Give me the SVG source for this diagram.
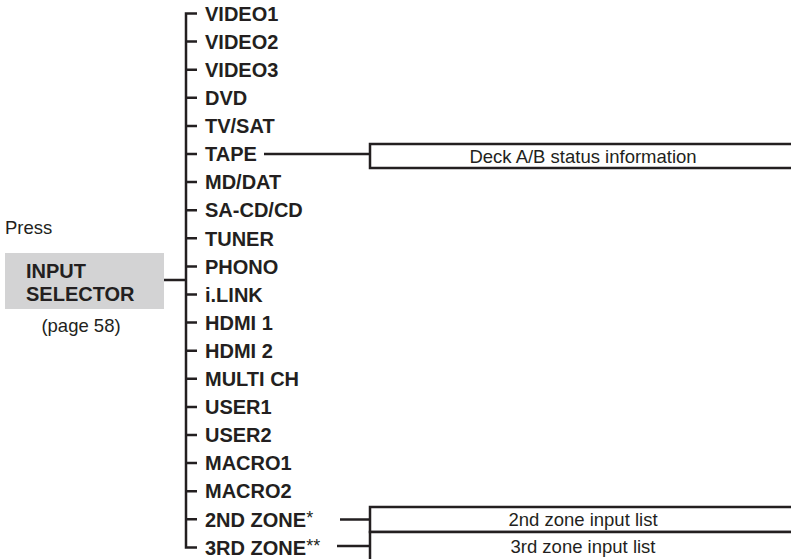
<svg xmlns="http://www.w3.org/2000/svg" width="791" height="559" viewBox="0 0 791 559">
<style>
.lbl{font-family:"Liberation Sans",Arial,sans-serif;font-weight:bold;font-size:20px;fill:#231f20}
.reg{font-family:"Liberation Sans",Arial,sans-serif;font-size:18.5px;fill:#231f20}
.ast{font-weight:normal;font-size:18px}
.ln{stroke:#231f20;stroke-width:2.5;fill:none}
.box{stroke:#231f20;stroke-width:2.5;fill:#fff}
</style>
<rect width="791" height="559" fill="#fff"/>
<g id="connectors">
<path class="ln" d="M164,280 H186 M197,13.5 H186 V547.4 H197"/>
<path class="ln" d="M186,41.6 H197 M186,69.7 H197 M186,97.8 H197 M186,125.9 H197 M186,154 H197 M186,182.1 H197 M186,210.2 H197 M186,238.3 H197 M186,266.4 H197 M186,294.5 H197 M186,322.6 H197 M186,350.7 H197 M186,378.8 H197 M186,406.9 H197 M186,435 H197 M186,463.1 H197 M186,491.2 H197 M186,519.3 H197"/>
<path class="ln" d="M264,154 H370 M340,519.5 H370 M337,546 H370"/>
</g>
<g id="press"><text class="reg" x="5" y="234">Press</text></g>
<g id="input-selector">
<rect x="5" y="253" width="159" height="56" fill="#d3d3d4"/>
<text class="lbl" x="26" y="278" font-size="21">INPUT</text>
<text class="lbl" x="26" y="301" font-size="21">SELECTOR</text>
</g>
<g id="page"><text class="reg" x="81" y="332" text-anchor="middle">(page 58)</text></g>
<g id="inputs">
<text class="lbl" x="205" y="20.7">VIDEO1</text>
<text class="lbl" x="205" y="48.8">VIDEO2</text>
<text class="lbl" x="205" y="76.9">VIDEO3</text>
<text class="lbl" x="205" y="105">DVD</text>
<text class="lbl" x="205" y="133.1">TV/SAT</text>
<text class="lbl" x="205" y="161.2">TAPE</text>
<text class="lbl" x="205" y="189.3">MD/DAT</text>
<text class="lbl" x="205" y="217.4">SA-CD/CD</text>
<text class="lbl" x="205" y="245.5">TUNER</text>
<text class="lbl" x="205" y="273.6">PHONO</text>
<text class="lbl" x="205" y="301.7">i.LINK</text>
<text class="lbl" x="205" y="329.8">HDMI 1</text>
<text class="lbl" x="205" y="357.9">HDMI 2</text>
<text class="lbl" x="205" y="386">MULTI CH</text>
<text class="lbl" x="205" y="414.1">USER1</text>
<text class="lbl" x="205" y="442.2">USER2</text>
<text class="lbl" x="205" y="470.3">MACRO1</text>
<text class="lbl" x="205" y="498.4">MACRO2</text>
<text class="lbl" x="205" y="526.5">2ND ZONE<tspan class="ast" dy="-3">*</tspan></text>
<text class="lbl" x="205" y="554.6">3RD ZONE<tspan class="ast" dy="-3">**</tspan></text>
</g>
<g id="deck-box">
<rect class="box" x="370" y="144" width="430" height="24"/>
<text class="reg" x="583" y="162.5" text-anchor="middle">Deck A/B status information</text>
</g>
<g id="zone2-box">
<rect class="box" x="370" y="507" width="430" height="25"/>
<text class="reg" x="583" y="526" text-anchor="middle">2nd zone input list</text>
</g>
<g id="zone3-box">
<rect class="box" x="370" y="532" width="430" height="40"/>
<text class="reg" x="583" y="553" text-anchor="middle">3rd zone input list</text>
</g>
</svg>
